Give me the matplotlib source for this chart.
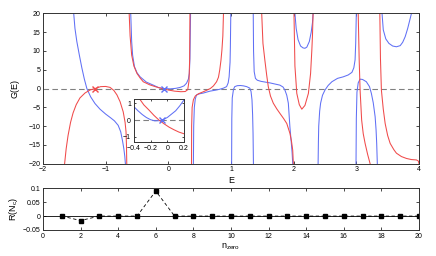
import numpy as np
import matplotlib
matplotlib.use('Agg')
import matplotlib.pyplot as plt

plt.rcParams['font.family'] = ['Liberation Sans', 'DejaVu Sans']

# --- G(E) branches (one array pair per branch) ---
red1_E = [-1.655, -1.63, -1.60, -1.56, -1.52, -1.47, -1.41, -1.33, -1.25, -1.17, -1.08, -1.0, -0.93, -0.87, -0.82, -0.77, -0.72, -0.69, -0.675, -0.668, -0.663]
red1_G = [-20, -16, -12.5, -9, -6.5, -4.3, -2.5, -1.2, -0.4, 0, 0.5, 0.55, 0.3, -0.5, -1.7, -3.5, -6.2, -9, -11.5, -15, -20]
red2_E = [-0.625, -0.61, -0.585, -0.55, -0.5, -0.45, -0.4, -0.3, -0.2, -0.1, 0.0, 0.1, 0.2, 0.27, 0.31, 0.33, 0.34, 0.345]
red2_G = [20, 14, 8.9, 6, 4, 2.8, 1.8, 1.0, 0.45, 0, -0.4, -0.7, -0.85, -0.8, -0.3, 2, 7.6, 20]
red3_E = [0.37, 0.372, 0.38, 0.40, 0.43, 0.48, 0.56, 0.62, 0.67, 0.72, 0.77, 0.80, 0.82, 0.84, 0.855, 0.87, 0.88]
red3_G = [-20, -10, -5, -3, -2, -1.4, -0.85, -0.4, 0, 0.7, 1.8, 3, 4.9, 7.5, 10.2, 14, 20]
red4_E = [1.49, 1.51, 1.54, 1.57, 1.595, 1.63, 1.675, 1.73, 1.78, 1.84, 1.89, 1.94, 1.965, 1.985, 1.995]
red4_G = [20, 12, 7.6, 3.5, 0.5, -2, -3.9, -5.4, -6.6, -8, -9.3, -11.9, -14, -16.4, -20]
red5_E = [2.005, 2.02, 2.05, 2.09, 2.13, 2.18, 2.235, 2.27, 2.29, 2.30, 2.31]
red5_G = [20, 6, -1.3, -4.3, -5.5, -4.5, -1.3, 4, 10.2, 14, 20]
red6_E = [3.03, 3.045, 3.06, 3.085, 3.11, 3.14, 3.18, 3.22]
red6_G = [20, 8, -0.4, -8.4, -12, -14.6, -17.5, -20]
red7_E = [3.375, 3.385, 3.40, 3.43, 3.46, 3.50, 3.54, 3.60, 3.64, 3.72, 3.80, 3.88, 3.96, 3.99, 4.0]
red7_G = [20, 8, -0.4, -5.5, -9.3, -12.5, -14.6, -16.3, -17.2, -18.1, -18.6, -18.9, -19.0, -19.3, -20]

blue1_E = [-1.51, -1.49, -1.46, -1.42, -1.38, -1.34, -1.30, -1.24, -1.17, -1.09, -1.0, -0.92, -0.86, -0.80, -0.76, -0.73, -0.71, -0.695, -0.685]
blue1_G = [20, 16, 12.5, 8.9, 5.5, 2.5, 0, -2.2, -4, -5.5, -6.8, -7.8, -8.6, -9.8, -11.5, -14, -16, -18, -20]
blue2_E = [-0.60, -0.585, -0.57, -0.54, -0.50, -0.45, -0.35, -0.24, -0.15, -0.07, 0.03, 0.12, 0.19, 0.25, 0.29, 0.32, 0.335, 0.345, 0.355]
blue2_G = [20, 12.5, 8.9, 5.8, 4.2, 3.1, 1.7, 0.9, 0.2, 0, -0.1, 0.05, 0.3, 0.7, 1.4, 2.5, 4, 8, 20]
blue3_E = [0.40, 0.405, 0.415, 0.43, 0.45, 0.50, 0.56, 0.665, 0.75, 0.82, 0.88, 0.93, 0.955, 0.97, 0.985, 0.99, 0.997]
blue3_G = [-20, -10, -5, -2.8, -1.7, -1.4, -1.2, -0.7, -0.45, -0.2, 0.1, 0.5, 1.5, 3.1, 7, 11, 20]
blue4_E = [1.01, 1.013, 1.02, 1.04, 1.06, 1.1, 1.15, 1.2, 1.25, 1.30, 1.32, 1.335, 1.345, 1.352, 1.358]
blue4_G = [-20, -8, -2.5, -0.2, 0.5, 0.75, 0.8, 0.7, 0.5, 0.1, -0.8, -3, -7, -12, -20]
blue5_E = [1.355, 1.36, 1.37, 1.39, 1.42, 1.48, 1.55, 1.62, 1.70, 1.78, 1.83, 1.86, 1.89, 1.915, 1.94, 1.96, 1.975, 1.985]
blue5_G = [20, 10, 4.5, 2.7, 2.2, 1.9, 1.7, 1.5, 1.2, 0.9, 0.4, -0.4, -1.8, -3.9, -10.2, -14, -17, -20]
blue6_E = [2.02, 2.04, 2.07, 2.11, 2.15, 2.18, 2.21, 2.25, 2.28, 2.30, 2.31]
blue6_G = [20, 16, 13, 11.3, 10.8, 10.7, 11, 12.5, 15, 17.5, 20]
blue7_E = [2.39, 2.395, 2.40, 2.415, 2.43, 2.46, 2.50, 2.55, 2.61, 2.70, 2.79, 2.87, 2.93, 2.96, 2.98, 2.99, 3.0]
blue7_G = [-20, -14, -10, -6, -3.9, -1.8, -0.4, 0.8, 1.8, 2.7, 3.1, 3.6, 4.3, 5.5, 7.6, 12, 20]
blue8_E = [2.995, 3.0, 3.01, 3.03, 3.06, 3.10, 3.16, 3.21, 3.24, 3.27, 3.30, 3.315, 3.325, 3.335]
blue8_G = [-20, -8, -1, 1.5, 2.5, 2.4, 1.8, 0.5, -1.3, -3.8, -7.5, -11, -14.6, -20]
blue9_E = [3.41, 3.43, 3.47, 3.52, 3.58, 3.64, 3.70, 3.74, 3.78, 3.82, 3.85, 3.88]
blue9_G = [20, 15.6, 13.2, 12, 11.3, 11.1, 11.4, 12.3, 13.8, 16, 18, 20]

# zeros marked with crosses
red_zero = (-1.17, 0)
blue_zero = (-0.07, 0)

# inset (zoom around E = 0)
blue_in_E = [-0.40, -0.35, -0.30, -0.25, -0.20, -0.15, -0.10, -0.06, 0.0, 0.05, 0.10, 0.15, 0.2]
blue_in_G = [0.8, 0.55, 0.33, 0.15, 0.02, -0.05, -0.04, 0, 0.15, 0.35, 0.55, 0.85, 1.2]
red_in_E = [-0.33, -0.28, -0.22, -0.16, -0.10, -0.04, 0.02, 0.08, 0.14, 0.2]
red_in_G = [1.25, 0.9, 0.6, 0.28, 0, -0.22, -0.42, -0.58, -0.72, -0.82]

# bottom panel
n_zero = list(range(1, 21))
R_vals = [0, -0.016, 0, 0, 0, 0.09, 0, 0, 0, 0, 0, 0, 0, 0, 0, 0, 0, 0, 0, 0]

RED = '#f04a4a'
BLUE = '#6070f5'
fs = 5

fig = plt.figure(figsize=(4.36, 2.56), dpi=100)

ax = fig.add_axes([0.0986, 0.3605, 0.8624, 0.5875])
reds = [(red1_E, red1_G), (red2_E, red2_G), (red3_E, red3_G), (red4_E, red4_G),
        (red5_E, red5_G), (red6_E, red6_G), (red7_E, red7_G)]
blues = [(blue1_E, blue1_G), (blue2_E, blue2_G), (blue3_E, blue3_G), (blue4_E, blue4_G),
         (blue5_E, blue5_G), (blue6_E, blue6_G), (blue7_E, blue7_G), (blue8_E, blue8_G),
         (blue9_E, blue9_G)]
ax.axhline(0, color='#808080', ls=(0, (5, 3)), lw=0.8)
for e, g in blues:
    ax.plot(e, g, color=BLUE, lw=0.75)
for e, g in reds:
    ax.plot(e, g, color=RED, lw=0.75)
ax.plot(*red_zero, 'x', color=RED, ms=4, mew=1)
ax.plot(*blue_zero, 'x', color=BLUE, ms=4, mew=1)
ax.set_xlim(-2, 4)
ax.set_ylim(-20, 20)
ax.set_yticks(range(-20, 21, 5))
ax.set_xticks(range(-2, 5))
ax.set_xlabel('E', fontsize=6.5, labelpad=2)
ax.set_ylabel('G(E)', fontsize=6.5, labelpad=6)

ins = fig.add_axes([0.307, 0.446, 0.115, 0.167])
ins.axhline(0, color='#808080', ls=(0, (5, 3)), lw=0.8)
ins.plot(blue_in_E, blue_in_G, color=BLUE, lw=0.75)
ins.plot(red_in_E, red_in_G, color=RED, lw=0.75)
ins.plot(-0.06, 0, 'x', color=BLUE, ms=4, mew=1)
ins.set_xlim(-0.4, 0.2)
ins.set_ylim(-1.3, 1.25)
ins.set_xticks([-0.4, -0.2, 0, 0.2])
ins.set_xticklabels(['\u22120.4', '\u22120.2', '0', '0.2'])
ins.set_yticks([-1, 0, 1])

axb = fig.add_axes([0.0986, 0.1016, 0.8624, 0.163])
axb.axhline(0, color='k', lw=0.6)
axb.plot(n_zero, R_vals, 'k--', lw=0.6, dashes=(4, 3), marker='s', ms=2.8)
axb.set_xlim(0, 20)
axb.set_ylim(-0.05, 0.1)
axb.set_xticks(range(0, 21, 2))
axb.set_yticks([-0.05, 0, 0.05, 0.1])
axb.set_yticklabels(['\u22120.05', '0', '0.05', '0.1'])
axb.set_xlabel('n$_{\\mathregular{zero}}$', fontsize=6.5, labelpad=1)
axb.set_ylabel('R(N$_\\mathregular{c}$)', fontsize=6.5, labelpad=2)

for a in (ax, ins, axb):
    a.tick_params(direction='in', top=True, right=True, labelsize=fs,
                  length=2.5, width=0.5, pad=2)
    for s in a.spines.values():
        s.set_linewidth(0.7)
        s.set_color('#333333')
ins.tick_params(length=1.5)

fig.savefig('out.png', dpi=100)
